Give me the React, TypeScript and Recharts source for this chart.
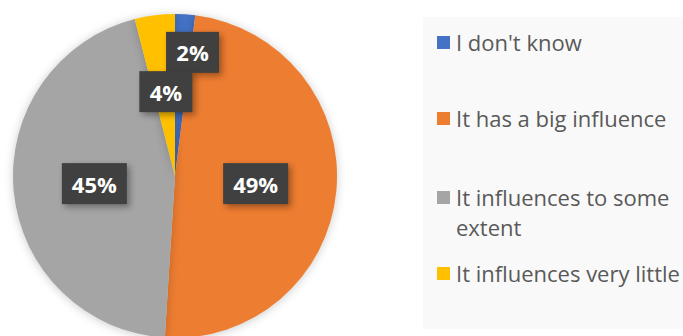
import React from 'react';
import { PieChart, Pie, Cell, Legend } from 'recharts';

const answers = ["I don't know", 'It has a big influence', 'It influences to some extent', 'It influences very little'];
const shares = [2, 49, 45, 4];
const colors = ['#4472C4', '#ED7D31', '#A5A5A5', '#FFC000'];

const data = answers.map((name, i) => ({ name, value: shares[i] }));

const RADIAN = Math.PI / 180;

// Excel nudges the labels of the thin slices, so radius factor + offset per slice
const labelPlace = [
  { k: 0.74, dx: 10, dy: -4 },
  { k: 0.5, dx: 0, dy: 0 },
  { k: 0.5, dx: 0, dy: 0 },
  { k: 0.5, dx: 1, dy: -4 },
];

const renderLabel = (props: any) => {
  const { cx, cy, midAngle, outerRadius, index, value } = props;
  const p = labelPlace[index];
  const r = outerRadius * p.k;
  const x = cx + r * Math.cos(-midAngle * RADIAN) + p.dx;
  const y = cy + r * Math.sin(-midAngle * RADIAN) + p.dy;
  const w = value >= 10 ? 65 : 53;
  const h = 41;
  return (
    <g key={`lbl-${index}`}>
      <rect
        x={x - w / 2}
        y={y - h / 2}
        width={w}
        height={h}
        fill="#404040"
        style={{ filter: 'drop-shadow(3px 3px 3px rgba(0,0,0,0.35))' }}
      />
      <text
        x={x}
        y={y}
        fill="#ffffff"
        textAnchor="middle"
        dominantBaseline="central"
        fontFamily="'Open Sans', sans-serif"
        fontWeight={700}
        fontSize={22}
      >
        {`${value}%`}
      </text>
    </g>
  );
};

const rowTops = [10, 86, 165, 241];

const renderLegend = () => (
  <div
    style={{
      position: 'relative',
      width: 260,
      height: 312,
      background: '#f9f9f9',
      fontFamily: "'Open Sans', sans-serif",
      fontSize: 22,
      color: '#595959',
      overflow: 'hidden',
    }}
  >
    {answers.map((name, i) => (
      <div
        key={name}
        style={{ position: 'absolute', left: 14, top: rowTops[i], width: 260, display: 'flex', lineHeight: '30px' }}
      >
        <span style={{ width: 13, height: 13, background: colors[i], marginTop: 9, marginRight: 6, flexShrink: 0 }} />
        <span style={{ width: 226, whiteSpace: i === 2 ? 'normal' : 'nowrap' }}>{name}</span>
      </div>
    ))}
  </div>
);

export default function App() {
  return (
    <div style={{ position: 'absolute', left: 0, top: 0, width: 683, height: 336, background: '#ffffff' }}>
      <style>{`.recharts-pie-sector { filter: drop-shadow(0 1px 5px rgba(0,0,0,0.2)); }`}</style>
      <PieChart width={683} height={336}>
        <Pie
          data={data}
          dataKey="value"
          nameKey="name"
          cx={170}
          cy={171}
          outerRadius={162}
          startAngle={90}
          endAngle={-270}
          stroke="none"
          label={renderLabel}
          labelLine={false}
          isAnimationActive={false}
        >
          {data.map((d, i) => (
            <Cell key={d.name} fill={colors[i]} />
          ))}
        </Pie>
        <Legend
          content={renderLegend}
          layout="vertical"
          wrapperStyle={{ position: 'absolute', left: 423, top: 17, width: 260, height: 312 }}
        />
      </PieChart>
    </div>
  );
}
